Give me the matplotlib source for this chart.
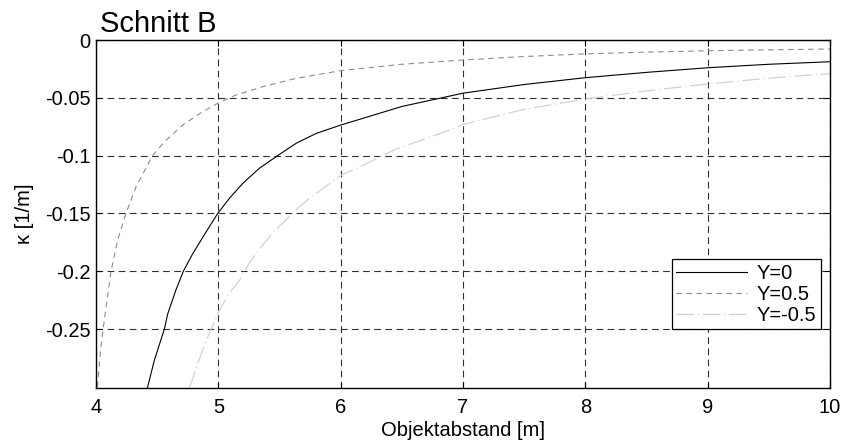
import matplotlib
matplotlib.use("Agg")
import matplotlib.pyplot as plt

plt.rcParams["font.family"] = ["Liberation Sans", "DejaVu Sans"]
plt.rcParams["axes.unicode_minus"] = False

# kappa curves
x_y0 = [4.42, 4.477, 4.559, 4.586, 4.654, 4.714, 4.79, 4.90, 4.995, 5.09, 5.2, 5.335, 5.485, 5.635, 5.80,
        6.0, 6.5, 7.0, 7.5, 8.0, 8.5, 9.0, 9.5, 10.0]
k_y0 = [-0.301, -0.277, -0.25, -0.237, -0.216, -0.20, -0.185, -0.166, -0.15, -0.137, -0.124, -0.111,
        -0.10, -0.0894, -0.0808, -0.0736, -0.0575, -0.046, -0.0385, -0.0326, -0.028, -0.024, -0.021,
        -0.0188]

x_yp = [4.012, 4.04, 4.082, 4.123, 4.177, 4.245, 4.327, 4.463, 4.559, 4.708, 4.872, 4.995, 5.144, 5.362,
        5.635, 6.0, 6.5, 7.0, 7.5, 8.0, 8.5, 9.0, 9.5, 10.0]
k_yp = [-0.30, -0.265, -0.231, -0.20, -0.173, -0.15, -0.127, -0.10, -0.088, -0.0736, -0.062, -0.0548,
        -0.0476, -0.0404, -0.0332, -0.0265, -0.021, -0.0173, -0.0143, -0.012, -0.0105, -0.0093, -0.0085,
        -0.0078]

x_ym = [4.763, 4.872, 4.94, 5.008, 5.09, 5.172, 5.253, 5.349, 5.444, 5.635, 5.744, 6.003, 6.13, 6.46,
        6.57, 6.89, 7.0, 7.5, 8.0, 8.5, 9.0, 9.5, 10.0]
k_ym = [-0.301, -0.268, -0.25, -0.234, -0.219, -0.208, -0.193, -0.179, -0.167, -0.147, -0.137, -0.117,
        -0.111, -0.094, -0.090, -0.078, -0.073, -0.060, -0.051, -0.044, -0.038, -0.033, -0.029]

labels = ["Y=0", "Y=0.5", "Y=-0.5"]
x_ticks = [4, 5, 6, 7, 8, 9, 10]
y_ticks = [0, -0.05, -0.1, -0.15, -0.2, -0.25]
y_tick_labels = ["0", "-0.05", "-0.1", "-0.15", "-0.2", "-0.25"]

fig = plt.figure(figsize=(8.44, 4.43), dpi=100)
ax = fig.add_axes([96 / 844, 1 - 388 / 443, 734 / 844, 348 / 443])

ax.plot(x_y0, k_y0, color="black", linewidth=0.8, linestyle="-", label=labels[0])
ax.plot(x_yp, k_yp, color="#8c8c8c", linewidth=0.8, linestyle=(0, (5, 4)), label=labels[1])
ax.plot(x_ym, k_ym, color="#d4d2c8", linewidth=0.9, linestyle=(0, (14, 3, 1, 3)), label=labels[2])

ax.set_xlim(4, 10)
ax.set_ylim(-0.301, 0)
ax.set_xticks(x_ticks)
ax.set_yticks(y_ticks)
ax.set_yticklabels(y_tick_labels)
ax.grid(True, color="#303030", linestyle=(0, (6, 4)), linewidth=0.8)
ax.tick_params(direction="in", top=True, right=True, labelsize=14.5, length=4)
ax.tick_params(axis="x", pad=7)
ax.tick_params(axis="y", pad=4)
for spine in ax.spines.values():
    spine.set_linewidth(1.0)

ax.set_title("Schnitt B", loc="left", fontsize=21, pad=6, x=0.005)
ax.set_xlabel("Objektabstand [m]", fontsize=14.5, labelpad=3)
ax.set_ylabel("κ [1/m]", fontsize=14.5, labelpad=8)

leg = ax.legend(loc="lower right", bbox_to_anchor=(0.9877, 0.1695), borderaxespad=0,
                fontsize=14.5, fancybox=False, edgecolor="black", framealpha=1,
                handlelength=3.5, handletextpad=0.5, borderpad=0.22, labelspacing=0.1)
leg.get_frame().set_linewidth(0.9)

fig.savefig("out.png", dpi=100)
